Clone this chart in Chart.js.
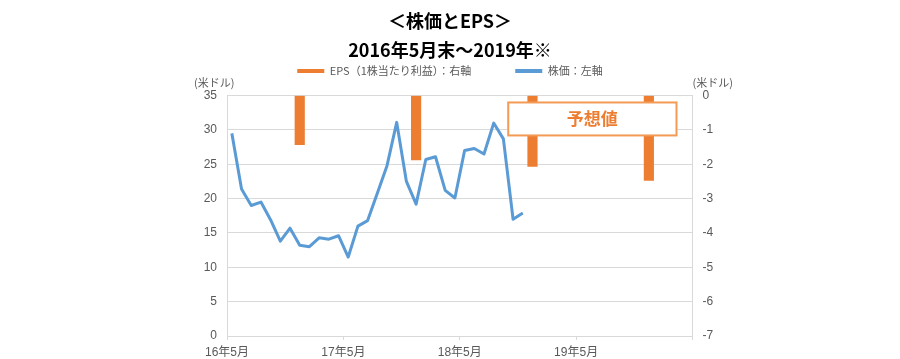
<!DOCTYPE html>
<html lang="ja">
<head>
<meta charset="utf-8">
<title>株価とEPS</title>
<script src="https://cdn.jsdelivr.net/npm/chart.js@4.4.1/dist/chart.umd.min.js"></script>
<style>
  html, body { margin: 0; padding: 0; background: #fff; }
  #wrap { width: 900px; height: 359px; }
</style>
</head>
<body>
<div id="wrap"><canvas id="epsChart" width="900" height="359"></canvas></div>
<script>
// 月次カテゴリ 2016年5月〜2020年4月
const months = [];
let yy = 2016, mm = 5;
while (months.length < 48) {
  months.push(`${yy}-${String(mm).padStart(2, '0')}`);
  mm++;
  if (mm > 12) { mm = 1; yy++; }
}

// 株価（月末, 米ドル）2016年5月〜2018年11月
const price = [29.5, 21.4, 19.0, 19.5, 16.9, 13.8, 15.7, 13.2, 13.0, 14.3,
               14.1, 14.6, 11.5, 16.0, 16.8, 20.8, 24.8, 31.1, 22.5, 19.2,
               25.7, 26.1, 21.2, 20.1, 27.0, 27.3, 26.5, 31.0, 28.7, 17.0, 17.9];

// EPS（決算期, 米ドル）後半2期は予想値
const epsPeriods = ['2016-12', '2017-12', '2018-12', '2019-12'];
const epsValues = [-1.43, -1.87, -2.06, -2.47];

const xTickLabels = ['16年5月', '17年5月', '18年5月', '19年5月', ''];

const titleLines = ['＜株価とEPS＞', '2016年5月末～2019年※'];

const ORANGE = '#ED7D31';
const BLUE = '#5B9BD5';
const GRID = '#D9D9D9';
const TEXT = '#595959';
const FONT = '"Liberation Sans", "Noto Sans CJK JP", sans-serif';
const JP = '"Noto Sans CJK JP", sans-serif';

// 凡例の高さを固定
const legendHeight = {
  id: 'legendHeight',
  beforeInit(chart) {
    const fit = chart.legend.fit;
    chart.legend.fit = function () {
      fit.bind(chart.legend)();
      this.height = 74;
    };
  }
};

// 予想値の枠と単位
const overlay = {
  id: 'overlay',
  afterDatasetsDraw(chart) {
    const { ctx, chartArea, scales } = chart;
    ctx.save();
    const x0 = scales.x2.getPixelForValue(29);
    const x1 = scales.x2.getPixelForValue(46.35);
    const y0 = scales.y1.getPixelForValue(-0.2);
    const y1 = scales.y1.getPixelForValue(-1.16);
    ctx.fillStyle = '#fff';
    ctx.fillRect(x0, y0, x1 - x0, y1 - y0);
    ctx.strokeStyle = '#F39A55';
    ctx.lineWidth = 2;
    ctx.strokeRect(x0, y0, x1 - x0, y1 - y0);
    ctx.fillStyle = ORANGE;
    ctx.font = 'bold 17px ' + JP;
    ctx.textAlign = 'center';
    ctx.textBaseline = 'middle';
    ctx.fillText('予想値', (x0 + x1) / 2, (y0 + y1) / 2);

    ctx.font = '11px ' + JP;
    ctx.fillStyle = TEXT;
    ctx.textAlign = 'left';
    ctx.fillText('(米ドル)', chartArea.left - 33, chartArea.top - 13);
    ctx.fillText('(米ドル)', chartArea.right, chartArea.top - 13);
    ctx.restore();
  }
};

const ctx = document.getElementById('epsChart').getContext('2d');
new Chart(ctx, {
  data: {
    labels: months,
    datasets: [
      {
        type: 'bar',
        label: 'EPS（1株当たり利益）：右軸',
        data: epsPeriods.map((p, i) => ({ x: p, y: epsValues[i] })),
        backgroundColor: ORANGE,
        borderColor: ORANGE,
        borderWidth: 0,
        barThickness: 9.5,
        xAxisID: 'x',
        yAxisID: 'y1'
      },
      {
        type: 'line',
        label: '株価：左軸',
        data: price,
        borderColor: BLUE,
        backgroundColor: BLUE,
        borderWidth: 3,
        borderJoinStyle: 'round',
        pointRadius: 0,
        tension: 0,
        xAxisID: 'x',
        yAxisID: 'y'
      }
    ]
  },
  options: {
    responsive: false,
    animation: false,
    layout: { padding: 0 },
    plugins: {
      title: {
        display: true,
        text: titleLines,
        color: '#000',
        font: { size: 18, weight: 'bold', family: JP, lineHeight: 1.6 },
        padding: { top: 7, bottom: -43 }
      },
      legend: {
        display: true,
        labels: {
          color: TEXT,
          font: { size: 11, family: JP },
          boxWidth: 27,
          boxHeight: 4,
          padding: 44,
          generateLabels(chart) {
            const items = Chart.defaults.plugins.legend.labels.generateLabels(chart);
            items.forEach(it => { it.lineWidth = 0; it.fillStyle = it.strokeStyle; });
            return items;
          }
        }
      },
      tooltip: { enabled: false }
    },
    scales: {
      x: {
        type: 'category',
        offset: true,
        display: false
      },
      x2: {
        type: 'linear',
        position: 'bottom',
        min: 0,
        max: 48,
        ticks: {
          stepSize: 12,
          autoSkip: false,
          maxRotation: 0,
          padding: 5,
          color: TEXT,
          font: { size: 12, family: FONT },
          callback: v => xTickLabels[v / 12]
        },
        grid: { drawOnChartArea: false, drawTicks: true, tickLength: 4, color: GRID },
        border: { color: GRID, width: 1 },
        afterFit: s => { s.height = 23; }
      },
      y: {
        position: 'left',
        min: 0,
        max: 35,
        ticks: { stepSize: 5, padding: 10, color: TEXT, font: { size: 12, family: FONT } },
        grid: { color: GRID, drawTicks: false },
        border: { color: GRID },
        afterFit: s => { s.width = 227; }
      },
      y1: {
        position: 'right',
        min: -7,
        max: 0,
        ticks: { stepSize: 1, padding: 10, color: TEXT, font: { size: 12, family: FONT } },
        grid: { drawOnChartArea: false, drawTicks: false },
        border: { color: GRID },
        afterFit: s => { s.width = 207.5; }
      }
    }
  },
  plugins: [legendHeight, overlay]
});
</script>
</body>
</html>
